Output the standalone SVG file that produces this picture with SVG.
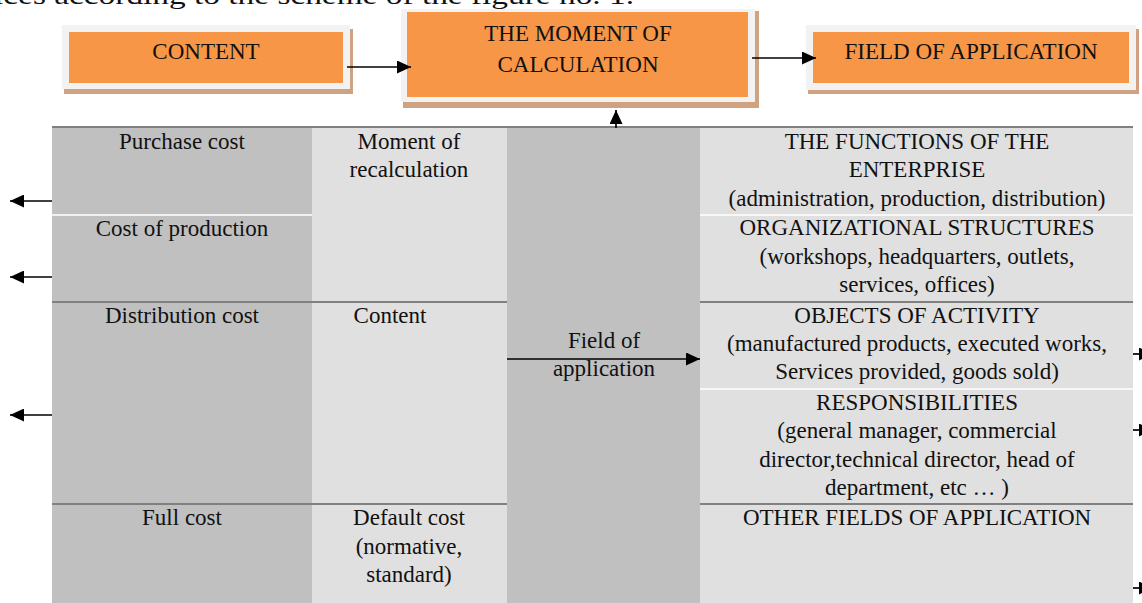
<svg xmlns="http://www.w3.org/2000/svg" width="1142" height="603" viewBox="0 0 1142 603">
  <style>
    .t { font-family: "Liberation Serif", "Times New Roman", serif; font-size: 23px; fill: #111; text-anchor: middle; }
    .frame { fill: #f2f2f2; }
    .shadow { fill: #cfa381; }
    .orange { fill: #f79646; }
    .dark { fill: #c0c0c0; }
    .light { fill: #e0e0e0; }
    .sep { stroke: #808080; stroke-width: 2; fill: none; }
    .wsep { stroke: #ffffff; stroke-width: 1.6; fill: none; }
    .conn { stroke: #000; stroke-width: 1.7; fill: none; marker-end: url(#head); }
  </style>
  <defs>
    <marker id="head" markerUnits="userSpaceOnUse" markerWidth="14" markerHeight="13" refX="14" refY="6.5" orient="auto">
      <path d="M0,0 L14,6.5 L0,13 z" fill="#000"/>
    </marker>
  </defs>

  <rect width="1142" height="603" fill="#ffffff"/>

  <!-- running text line above the scheme -->
  <text x="-6" y="4" class="t" style="text-anchor:start;font-size:26px" textLength="640" lengthAdjust="spacingAndGlyphs">ices according to the scheme of the figure no. 1.</text>

  <!-- header boxes -->
  <g id="content-box">
    <rect class="shadow" x="64" y="29" width="289" height="65"/>
    <rect class="frame" x="62" y="25" width="288" height="64"/>
    <rect class="orange" x="69" y="32" width="274" height="51"/>
    <text class="t" x="206" y="59">CONTENT</text>
  </g>
  <g id="moment-box">
    <rect class="shadow" x="403" y="11" width="356" height="97"/>
    <rect class="frame" x="401" y="9" width="354" height="93"/>
    <rect class="orange" x="407" y="12" width="341" height="85"/>
    <text class="t" x="578" y="41">THE MOMENT OF</text>
    <text class="t" x="578" y="72">CALCULATION</text>
  </g>
  <g id="field-box">
    <rect class="shadow" x="808" y="29" width="331" height="65"/>
    <rect class="frame" x="806" y="25" width="330" height="65"/>
    <rect class="orange" x="813" y="32" width="316" height="51"/>
    <text class="t" x="971" y="59">FIELD OF APPLICATION</text>
  </g>

  <!-- table columns -->
  <g id="table">
    <rect class="dark" x="52" y="128" width="260" height="475"/>
    <rect class="light" x="312" y="128" width="195" height="475"/>
    <rect class="light" x="700" y="128" width="433" height="475"/>
    <path class="sep" d="M52,302 H1133 M52,504 H1133"/>
    <path class="wsep" d="M52,215 H312 M700,215 H1133 M700,389 H1133"/>
    <rect class="dark" x="507" y="128" width="193" height="475"/>
    <path class="sep" d="M52,127 H1133"/>
  </g>

  <g id="col-cost">
    <text class="t" x="182" y="149">Purchase cost</text>
    <text class="t" x="182" y="236">Cost of production</text>
    <text class="t" x="182" y="323">Distribution cost</text>
    <text class="t" x="182" y="525">Full cost</text>
  </g>
  <g id="col-criteria">
    <text class="t" x="409" y="149">Moment of</text>
    <text class="t" x="409" y="177">recalculation</text>
    <text class="t" x="390" y="323">Content</text>
    <text class="t" x="409" y="525">Default cost</text>
    <text class="t" x="409" y="554">(normative,</text>
    <text class="t" x="409" y="582">standard)</text>
  </g>
  <g id="col-field">
    <text class="t" x="604" y="348">Field of</text>
    <text class="t" x="604" y="376">application</text>
  </g>
  <g id="col-areas">
    <text class="t" x="917" y="149">THE FUNCTIONS OF THE</text>
    <text class="t" x="917" y="177">ENTERPRISE</text>
    <text class="t" x="917" y="206">(administration, production, distribution)</text>
    <text class="t" x="917" y="235">ORGANIZATIONAL STRUCTURES</text>
    <text class="t" x="917" y="264">(workshops, headquarters, outlets,</text>
    <text class="t" x="917" y="292">services, offices)</text>
    <text class="t" x="917" y="323">OBJECTS OF ACTIVITY</text>
    <text class="t" x="917" y="351">(manufactured products, executed works,</text>
    <text class="t" x="917" y="379">Services provided, goods sold)</text>
    <text class="t" x="917" y="410">RESPONSIBILITIES</text>
    <text class="t" x="917" y="438">(general manager, commercial</text>
    <text class="t" x="917" y="467">director,technical director, head of</text>
    <text class="t" x="917" y="495">department, etc … )</text>
    <text class="t" x="917" y="525">OTHER FIELDS OF APPLICATION</text>
  </g>

  <!-- connectors -->
  <g id="connectors">
    <path class="conn" d="M347,67 H411"/>
    <path class="conn" d="M752,58 H816"/>
    <path class="conn" d="M616,128 V110"/>
    <path class="conn" d="M507,359 H700"/>
    <path class="conn" d="M52,201 H10"/>
    <path class="conn" d="M52,277 H10"/>
    <path class="conn" d="M52,415 H10"/>
    <path class="conn" d="M1133,354 H1153"/>
    <path class="conn" d="M1133,430 H1153"/>
    <path class="conn" d="M1133,588 H1153"/>
  </g>
</svg>
